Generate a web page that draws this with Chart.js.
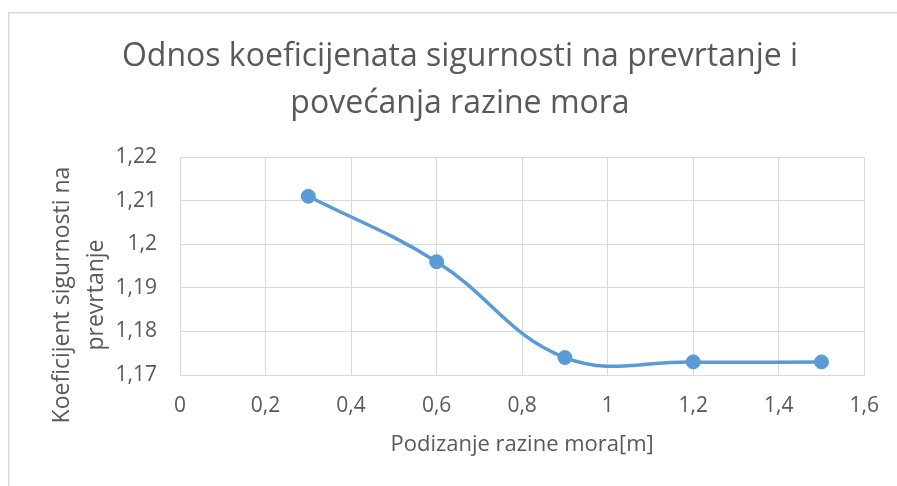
<!DOCTYPE html>
<html>
<head>
<meta charset="utf-8">
<script src="https://cdn.jsdelivr.net/npm/chart.js@4"></script>
<style>
  html, body { margin: 0; padding: 0; background: #ffffff; }
  #wrap { position: relative; width: 897px; height: 486px; }
</style>
</head>
<body>
<div id="wrap"><canvas id="c" width="897" height="486"></canvas></div>
<script>
// ---- data ----
const chartTitle = ['Odnos koeficijenata sigurnosti na prevrtanje i', 'povećanja razine mora'];
const xAxisTitle = 'Podizanje razine mora[m]';
const yAxisTitle = ['Koeficijent sigurnosti na', 'prevrtanje'];
const seaLevelRise = [0.3, 0.6, 0.9, 1.2, 1.5];
const safetyFactor = [1.211, 1.196, 1.174, 1.173, 1.173];
const xTickLabels = ['0', '0,2', '0,4', '0,6', '0,8', '1', '1,2', '1,4', '1,6'];
const yTickLabels = ['1,17', '1,18', '1,19', '1,2', '1,21', '1,22'];

const points = seaLevelRise.map((x, i) => ({ x: x, y: safetyFactor[i] }));

const TEXT = '#595959';
const GRID = '#d9d9d9';
const BLUE = '#5b9bd5';
const FONT = "'Open Sans', 'DejaVu Sans', sans-serif";

const framePlugin = {
  id: 'frame',
  beforeDraw(chart) {
    const ctx = chart.ctx;
    ctx.save();
    ctx.strokeStyle = '#d9d9d9';
    ctx.lineWidth = 1.5;
    ctx.beginPath();
    ctx.moveTo(8.75, 486);
    ctx.lineTo(8.75, 12.75);
    ctx.lineTo(897, 12.75);
    ctx.stroke();
    ctx.restore();
  }
};

function wrapDraw(obj, method, dx, dy) {
  if (!obj || obj['__w_' + method]) return;
  const orig = obj[method];
  obj[method] = function () {
    const ctx = this.ctx;
    ctx.save();
    ctx.translate(dx, dy);
    orig.apply(this, arguments);
    ctx.restore();
  };
  obj['__w_' + method] = true;
}

const shiftTitles = {
  id: 'shiftTitles',
  afterLayout(chart) {
    wrapDraw(chart.scales.y, 'drawTitle', 0, 29);
    wrapDraw(chart.titleBlock, 'draw', 26, 0);
  }
};

new Chart(document.getElementById('c'), {
  type: 'scatter',
  data: {
    datasets: [{
      data: points,
      showLine: true,
      borderColor: BLUE,
      backgroundColor: BLUE,
      borderWidth: 3.5,
      pointRadius: 7,
      pointHoverRadius: 7,
      pointBorderWidth: 1,
      pointBorderColor: BLUE,
      pointBackgroundColor: BLUE,
      tension: 0.4
    }]
  },
  options: {
    responsive: false,
    animation: false,
    devicePixelRatio: 1,
    layout: { padding: { left: 0, right: 29, top: 0, bottom: 0 } },
    plugins: {
      legend: { display: false },
      tooltip: { enabled: false },
      title: {
        display: true,
        text: chartTitle,
        color: TEXT,
        font: { family: FONT, size: 32, weight: 'normal', lineHeight: 1.47 },
        padding: { top: 33, bottom: 30 }
      }
    },
    scales: {
      x: {
        type: 'linear',
        min: 0,
        max: 1.6,
        afterFit(scale) { scale.height = 111; },
        ticks: {
          stepSize: 0.2,
          color: TEXT,
          padding: 18,
          font: { family: FONT, size: 21 },
          callback: (v, i) => xTickLabels[i]
        },
        grid: { color: GRID, lineWidth: 1, drawTicks: false },
        border: { color: GRID, width: 1 },
        title: {
          display: true,
          text: xAxisTitle,
          color: TEXT,
          font: { family: FONT, size: 22, lineHeight: 1.2 },
          padding: { top: 0, bottom: 28 }
        }
      },
      y: {
        type: 'linear',
        min: 1.17,
        max: 1.22,
        afterFit(scale) { scale.width = 180; },
        ticks: {
          stepSize: 0.01,
          color: TEXT,
          padding: 23,
          font: { family: FONT, size: 21 },
          callback: (v, i) => yTickLabels[i]
        },
        grid: { color: GRID, lineWidth: 1, drawTicks: false },
        border: { color: GRID, width: 1 },
        title: {
          display: true,
          text: yAxisTitle,
          color: TEXT,
          font: { family: FONT, size: 23, lineHeight: 1.48 },
          padding: { top: 45, bottom: 0 }
        }
      }
    }
  },
  plugins: [framePlugin, shiftTitles]
});
</script>
</body>
</html>
